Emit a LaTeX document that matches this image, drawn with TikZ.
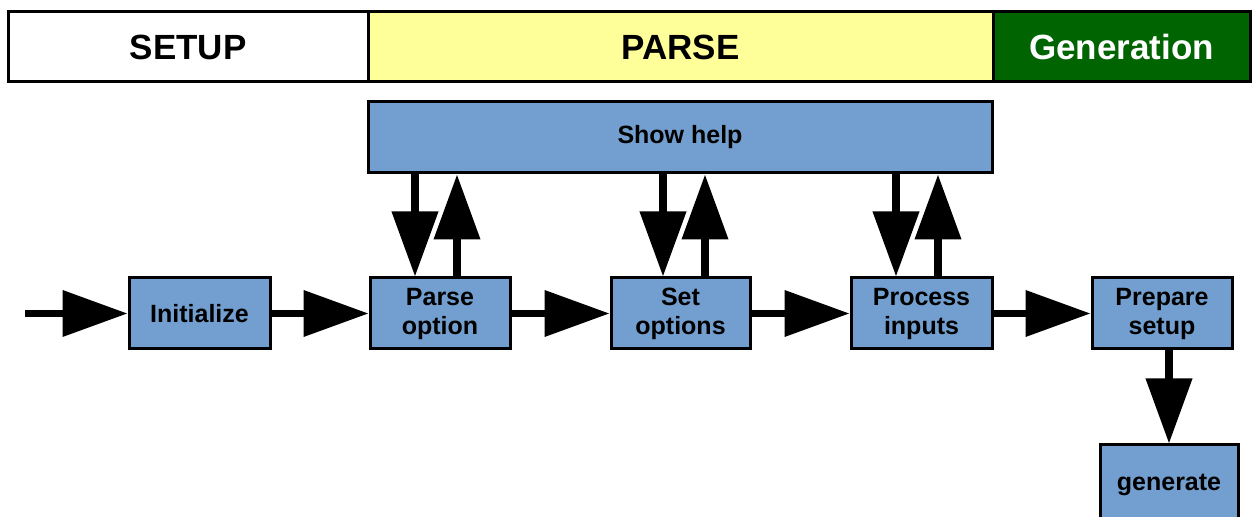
\documentclass[tikz,border=0pt]{standalone}
\usepackage{fontspec}
\setmainfont{Liberation Sans}
\usetikzlibrary{arrows.meta}

\definecolor{boxblue}{RGB}{114,159,207}
\definecolor{parseyellow}{RGB}{255,255,153}
\definecolor{gengreen}{RGB}{0,100,0}

\tikzset{
  band/.style={draw=black,line width=1.5pt,minimum height=35pt,inner sep=0pt,
    font=\fontsize{17.5}{21}\selectfont\bfseries},
  box/.style={draw=black,fill=boxblue,line width=1.5pt,minimum height=35.5pt,
    inner sep=0pt,align=center,font=\fontsize{12.5}{14.5}\selectfont\bfseries},
  flow/.style={line width=3.6pt,-{Triangle[length=32.5pt,width=22.5pt]}}
}

\begin{document}
\begin{tikzpicture}[x=0.5pt,y=-0.5pt]
\useasboundingbox (0,0) rectangle (1253,517);
% phases
\node[band,fill=white,minimum width=180pt] (setup) at (188,47) {SETUP};
\node[band,fill=parseyellow,minimum width=312.5pt] (parse) at (680.5,47) {PARSE};
\node[band,fill=gengreen,text=white,minimum width=128.5pt] (gen) at (1121.5,47) {Generation};
% steps
\node[box,minimum width=312pt] (help) at (680,137.5) {Show help};
\node[box,minimum width=70.5pt] (init) at (199.5,313.5) {Initialize};
\node[box,minimum width=70pt] (parseopt) at (440,313.5) {Parse\\option};
\node[box,minimum width=69.5pt] (setopt) at (680.5,313.5) {Set\\options};
\node[box,minimum width=70.5pt] (procin) at (921.5,313.5) {Process\\inputs};
\node[box,minimum width=70pt] (prepare) at (1162,313.5) {Prepare\\setup};
\node[box,minimum width=69pt,minimum height=40pt] (generate) at (1169,485) {generate};
% main flow
\coordinate (start) at (25,313.5);
\draw[flow] (start) -- (init);
\draw[flow] (init) -- (parseopt);
\draw[flow] (parseopt) -- (setopt);
\draw[flow] (setopt) -- (procin);
\draw[flow] (procin) -- (prepare);
\draw[flow] (prepare.south -| generate) -- (generate);
% help calls
\coordinate (d1) at (415,0);
\coordinate (u1) at (457,0);
\coordinate (d2) at (663,0);
\coordinate (u2) at (705,0);
\coordinate (d3) at (896,0);
\coordinate (u3) at (938,0);
\draw[flow] (help.south -| d1) -- (parseopt.north -| d1);
\draw[flow] (parseopt.north -| u1) -- (help.south -| u1);
\draw[flow] (help.south -| d2) -- (setopt.north -| d2);
\draw[flow] (setopt.north -| u2) -- (help.south -| u2);
\draw[flow] (help.south -| d3) -- (procin.north -| d3);
\draw[flow] (procin.north -| u3) -- (help.south -| u3);
\end{tikzpicture}
\end{document}
